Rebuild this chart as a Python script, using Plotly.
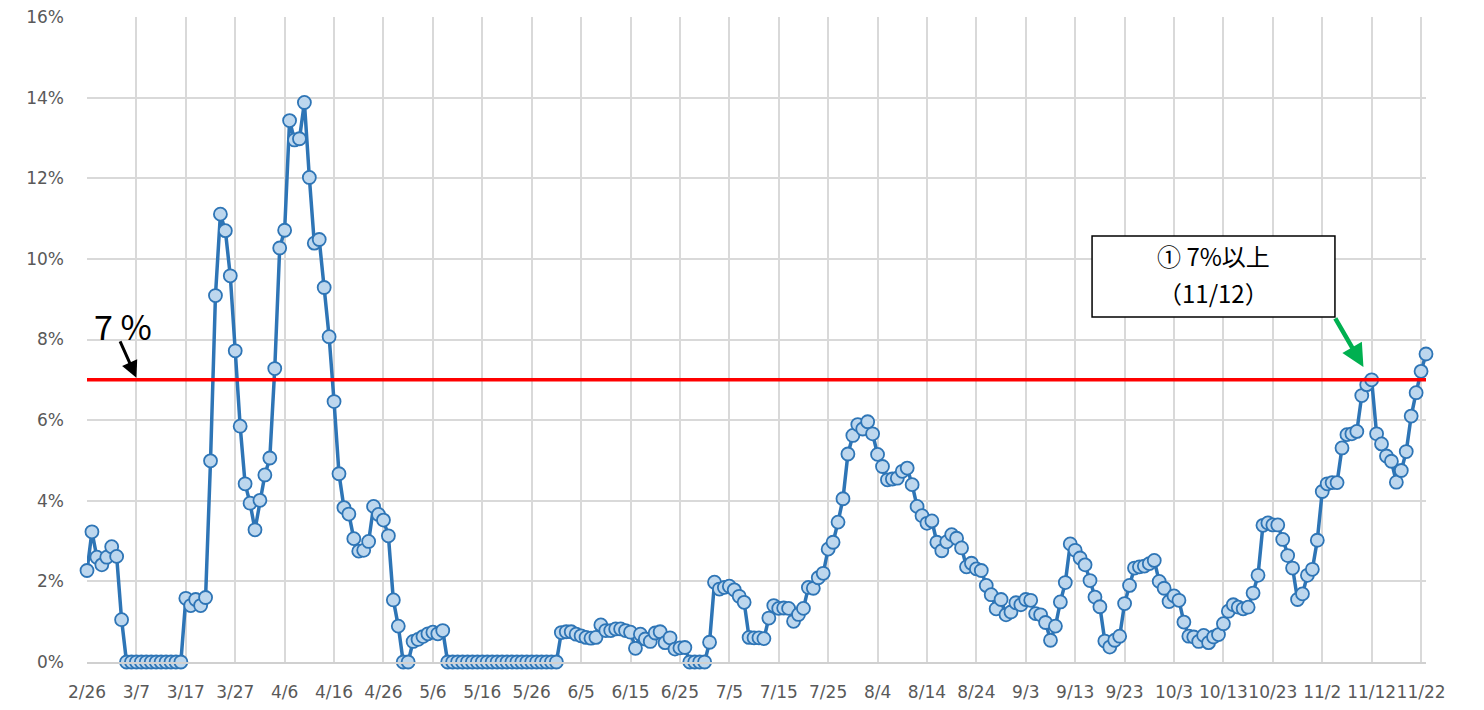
import pandas as pd
import plotly.graph_objects as go

start_date = "2020-02-26"
positivity = [
    2.27, 3.23, 2.60, 2.41, 2.60, 2.86, 2.62, 1.05,
    0, 0, 0, 0, 0, 0, 0, 0, 0, 0, 0, 0,
    1.58, 1.40, 1.55, 1.40, 1.60, 4.99, 9.09, 11.11, 10.70, 9.58,
    7.72, 5.85, 4.42, 3.94, 3.28, 4.01, 4.64, 5.06, 7.28, 10.27,
    10.71, 13.43, 12.95, 12.98, 13.88, 12.02, 10.39, 10.48, 9.29, 8.07,
    6.46, 4.67, 3.83, 3.67, 3.06, 2.75, 2.77, 2.99, 3.86, 3.66,
    3.52, 3.13, 1.54, 0.89, 0, 0, 0.51, 0.56, 0.63, 0.70,
    0.74, 0.70, 0.78,
    0, 0, 0, 0, 0, 0, 0, 0, 0, 0, 0, 0, 0, 0, 0, 0, 0, 0, 0, 0, 0, 0, 0,
    0.73, 0.75, 0.75, 0.69, 0.65, 0.61, 0.59, 0.61, 0.92, 0.78,
    0.78, 0.82, 0.82, 0.78, 0.74, 0.34, 0.69, 0.57, 0.51, 0.72,
    0.75, 0.48, 0.60, 0.32, 0.35, 0.36, 0, 0, 0, 0,
    0.49, 1.98, 1.81, 1.85, 1.88, 1.79, 1.63, 1.48, 0.61, 0.60,
    0.60, 0.58, 1.09, 1.40, 1.33, 1.34, 1.33, 1.01, 1.18, 1.33,
    1.85, 1.83, 2.09, 2.20, 2.80, 2.97, 3.47, 4.05, 5.16, 5.62,
    5.89, 5.78, 5.96, 5.66, 5.15, 4.85, 4.52, 4.54, 4.56, 4.73,
    4.81, 4.40, 3.86, 3.63, 3.44, 3.50, 2.97, 2.76, 2.98, 3.16,
    3.07, 2.83, 2.36, 2.45, 2.31, 2.27, 1.90, 1.67, 1.32, 1.55,
    1.17, 1.24, 1.47, 1.42, 1.55, 1.53, 1.20, 1.17, 0.98, 0.54,
    0.89, 1.49, 1.97, 2.93, 2.77, 2.58, 2.41, 2.02, 1.61, 1.37,
    0.52, 0.37, 0.54, 0.64, 1.45, 1.90, 2.33, 2.36, 2.38, 2.44,
    2.52, 2.00, 1.83, 1.50, 1.64, 1.53, 0.99, 0.64, 0.62, 0.51,
    0.66, 0.48, 0.62, 0.68, 0.95, 1.26, 1.42, 1.36, 1.32, 1.36,
    1.71, 2.15, 3.39, 3.45, 3.40, 3.40, 3.04, 2.64, 2.33, 1.55,
    1.69, 2.15, 2.30, 3.02, 4.23, 4.42, 4.45, 4.45, 5.31, 5.64,
    5.66, 5.72, 6.61, 6.88, 7.00, 5.66, 5.41, 5.11, 4.98, 4.46,
    4.75, 5.22, 6.10, 6.68, 7.21, 7.64,
]
threshold = 7.0
tick_labels = ["2/26", "3/7", "3/17", "3/27", "4/6", "4/16", "4/26", "5/6", "5/16",
               "5/26", "6/5", "6/15", "6/25", "7/5", "7/15", "7/25", "8/4", "8/14",
               "8/24", "9/3", "9/13", "9/23", "10/3", "10/13", "10/23", "11/2",
               "11/12", "11/22"]
y_ticks = [0, 2, 4, 6, 8, 10, 12, 14, 16]
callout_lines = ["① 7%以上", "（11/12）"]

dates = pd.date_range(start_date, periods=len(positivity), freq="D")
tick_vals = [dates[0] + pd.Timedelta(days=10 * i) for i in range(len(tick_labels))]

fig = go.Figure()
fig.add_trace(go.Scatter(
    x=dates, y=positivity, mode="lines+markers",
    line=dict(color="#2e75b6", width=3.5),
    marker=dict(size=13, color="#bdd7ee", line=dict(color="#2e75b6", width=1.8)),
    cliponaxis=False, showlegend=False,
))
fig.add_trace(go.Scatter(
    x=[dates[0], dates[-1]], y=[threshold, threshold], mode="lines",
    line=dict(color="#ff0000", width=3.5), showlegend=False, hoverinfo="skip",
))

tick_font = dict(family="'DejaVu Sans', sans-serif", size=17, color="#595959")
fig.update_xaxes(
    type="date", range=[dates[0], dates[-1]],
    tickmode="array", tickvals=tick_vals, ticktext=tick_labels, tickangle=0,
    showgrid=True, gridcolor="#d9d9d9", gridwidth=1.5,
    showline=True, linecolor="#d0d0d0", linewidth=1.5,
    ticks="", tickfont=tick_font, ticklabelstandoff=14, automargin=False,
    ticklabeloverflow="allow",
)
fig.update_yaxes(
    range=[0, 16], tickmode="array", tickvals=y_ticks,
    ticktext=[f"{v}%" for v in y_ticks],
    showgrid=True, gridcolor="#d9d9d9", gridwidth=1.5,
    zeroline=False, ticks="", tickfont=tick_font, ticklabelstandoff=22,
    automargin=False, ticklabeloverflow="allow",
)

# "7 %" label with black arrow
fig.add_annotation(
    x=dates[10], y=threshold + 0.05, xref="x", yref="y",
    text="", showarrow=True, arrowhead=2, arrowsize=1.1, arrowwidth=3,
    arrowcolor="black", ax=-17, ay=-38,
)
fig.add_annotation(
    x=0.004, y=8.34, xref="paper", yref="y",
    text="7 %", showarrow=False, xanchor="left", yanchor="middle",
    font=dict(family="'Noto Sans CJK JP', sans-serif", size=34, color="black"),
)

# callout box
box_x0, box_x1, box_y0, box_y1 = 0.7506, 0.932, 0.535, 0.6606
fig.add_shape(
    type="rect", xref="paper", yref="paper",
    x0=box_x0, x1=box_x1, y0=box_y0, y1=box_y1,
    line=dict(color="black", width=1.5), fillcolor="white", layer="above",
)
box_cx = (box_x0 + box_x1) / 2
for i, line_text in enumerate(callout_lines):
    fig.add_annotation(
        x=box_cx, y=box_y1 - 0.031 - i * 0.056, xref="paper", yref="paper",
        text=line_text, showarrow=False, xanchor="center", yanchor="middle",
        font=dict(family="'Noto Sans CJK JP', sans-serif", size=24, color="black"),
    )
# green arrow
fig.add_annotation(
    x=dates[258] + pd.Timedelta(hours=8), y=7.32, xref="x", yref="y",
    text="", showarrow=True, arrowhead=2, arrowsize=1, arrowwidth=4.5,
    arrowcolor="#00b050", ax=-29, ay=-50,
)

fig.update_layout(
    width=1484, height=710,
    margin=dict(l=79, r=66, t=9, b=56),
    paper_bgcolor="white", plot_bgcolor="white",
)
fig.write_html("out.html")
